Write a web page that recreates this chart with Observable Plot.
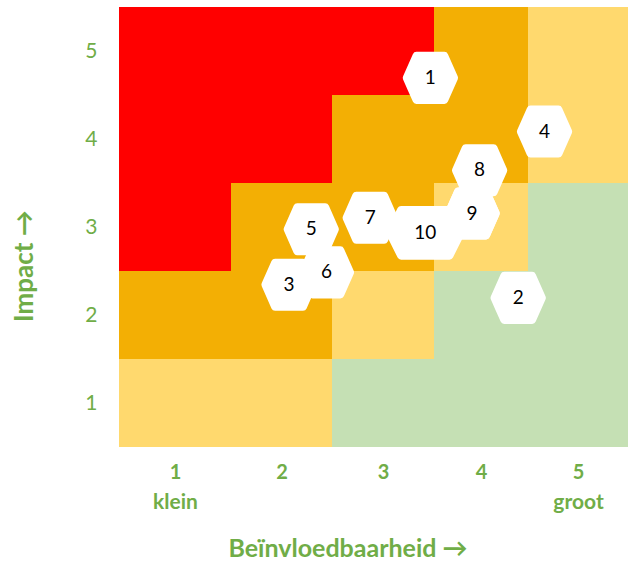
<!DOCTYPE html>
<html><head><meta charset="utf-8">
<script src="https://cdn.jsdelivr.net/npm/d3@7"></script>
<script src="https://cdn.jsdelivr.net/npm/@observablehq/plot@0.6"></script>
<style>body{margin:0;background:#fff}</style>
</head><body><div id="chart"></div>
<script>
// Influence (x) and impact (y) categories
const influence = [1, 2, 3, 4, 5];
const impact = [1, 2, 3, 4, 5];
const xTickLabels = ["1", "2", "3", "4", "5"];
const xSubLabels = ["klein", "", "", "", "groot"];
const xTitle = "Beïnvloedbaarheid →";
const yTitle = "Impact →";
// risk level per row (impact 5 → 1), per column (influence 1 → 5)
const levelRows = [
  ["hoog", "hoog", "hoog", "midden", "laag"],
  ["hoog", "hoog", "midden", "midden", "laag"],
  ["hoog", "midden", "midden", "laag", "zeer laag"],
  ["midden", "midden", "laag", "zeer laag", "zeer laag"],
  ["laag", "laag", "zeer laag", "zeer laag", "zeer laag"]
];
const levelNames = ["hoog", "midden", "laag", "zeer laag"];
const levelColors = ["#FF0000", "#F3AF04", "#FFD96E", "#C5E0B4"];
// risks (hexagon markers)
const riskIds = [1, 2, 3, 4, 5, 6, 7, 8, 9, 10];
const riskX = [3.46, 4.39, 2.07, 4.66, 2.29, 2.44, 2.87, 3.98, 3.90, 3.41];
const riskY = [4.70, 2.20, 2.35, 4.09, 2.98, 2.49, 3.11, 3.65, 3.16, 2.94];

const green = "#70AD47";
const cells = [];
levelRows.forEach((row, i) => row.forEach((lv, j) => cells.push({x: influence[j], y: impact[4 - i], level: lv})));
const risks = riskIds.map((id, i) => ({id, x: riskX[i], y: riskY[i]}));
const ticksX = influence.map((x, i) => ({x, text: xTickLabels[i]}));
const subs = influence.map((x, i) => ({x, text: xSubLabels[i]})).filter(d => d.text);

// columns in the original are slightly unequal in width: piecewise warp of the x scale
const xWarp = d3.scaleLinear().domain([0.5, 1.5, 2.5, 3.5, 4.5, 5.5]).range([0.5, 1.6, 2.592, 3.594, 4.518, 5.5]);

function hexSymbol(kx, ke, ky) {
  return {draw(ctx, size) {
    const r = Math.sqrt(size / Math.PI);
    const w = r * kx, e = r * ke, h = r * ky;
    const pts = [[-w, 0], [-e, -h], [e, -h], [w, 0], [e, h], [-e, h]];
    const rad = r * 0.14;
    const n = pts.length;
    const a = pts[n - 1], b = pts[0];
    ctx.moveTo((a[0] + b[0]) / 2, (a[1] + b[1]) / 2);
    for (let i = 0; i < n; i++) {
      const p = pts[i], q = pts[(i + 1) % n];
      ctx.arcTo(p[0], p[1], q[0], q[1], rad);
    }
    ctx.closePath();
  }};
}
const hex = hexSymbol(1, 0.59, 0.93);
const hexWide = hexSymbol(1.43, 0.95, 0.96);

const chart = Plot.plot({
  width: 628, height: 563,
  marginLeft: 119, marginRight: 0, marginTop: 7, marginBottom: 116,
  style: {fontFamily: "Lato, sans-serif", background: "white"},
  x: {domain: [0.5, 5.5], transform: xWarp, axis: null},
  y: {domain: [0.5, 5.5], axis: null},
  color: {type: "ordinal", domain: levelNames, range: levelColors},
  marks: [
    Plot.rect(cells, {x1: d => d.x - 0.5, x2: d => d.x + 0.5, y1: d => d.y - 0.5, y2: d => d.y + 0.5, fill: "level", shapeRendering: "crispEdges"}),
    Plot.dot(risks.filter(d => d.id !== 10), {x: "x", y: "y", r: 28, symbol: hex, fill: "white", stroke: "none"}),
    Plot.dot(risks.filter(d => d.id === 10), {x: "x", y: "y", r: 28, symbol: hexWide, fill: "white", stroke: "none"}),
    Plot.dot(risks.filter(d => d.id === 9), {x: "x", y: "y", r: 28, symbol: hex, fill: "white", stroke: "none"}),
    Plot.text(risks, {x: "x", y: "y", text: d => String(d.id), fontSize: 19, fill: "black"}),
    Plot.text(impact, {y: d => d, text: d => String(d), frameAnchor: "left", textAnchor: "end", dx: -22, fontSize: 21, fill: green}),
    Plot.text(ticksX, {x: "x", text: "text", frameAnchor: "bottom", dy: 31, fontSize: 20, fontWeight: "bold", fill: green}),
    Plot.text(subs, {x: "x", text: "text", frameAnchor: "bottom", dy: 61, fontSize: 21, fontWeight: "bold", fill: green}),
    Plot.text([xTitle], {frameAnchor: "bottom", dx: -26, dy: 109, fontSize: 25, fontWeight: "bold", fill: green}),
    Plot.text([yTitle], {y: [2.56], frameAnchor: "left", textAnchor: "middle", dx: -95, rotate: -90, fontSize: 26, fontWeight: "bold", fill: green})
  ]
});
document.getElementById("chart").appendChild(chart);
</script>
</body></html>
